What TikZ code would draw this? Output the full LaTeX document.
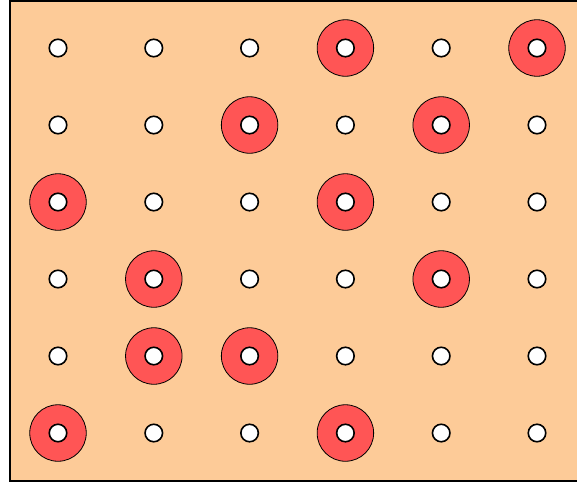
\documentclass[tikz,border=0pt]{standalone}
\definecolor{board}{HTML}{FDCB98}
\definecolor{ringred}{HTML}{FF5555}
\tikzset{
  hole/.style={circle,draw,fill=white,line width=1.6pt,inner sep=0pt,minimum size=17.5pt},
  ring/.style={circle,draw,fill=ringred,line width=.8pt,inner sep=0pt,minimum size=56.5pt}
}
\begin{document}
\begin{tikzpicture}[x=1pt,y=-1pt]
\useasboundingbox (0,0) rectangle (577,483);
\draw[fill=board,line width=1.8pt] (10,1) rectangle (600,481);
% red rings under the holes
\foreach \r/\c in {1/4,1/6,2/3,2/5,3/1,3/4,4/2,4/5,5/2,5/3,6/1,6/4}{
  \node[ring] (ring-\r-\c) at ({58+(\c-1)*95.8},{48+(\r-1)*77}) {};
}
% 6x6 grid of holes
\foreach \r in {1,...,6}{
  \foreach \c in {1,...,6}{
    \node[hole] (hole-\r-\c) at ({58+(\c-1)*95.8},{48+(\r-1)*77}) {};
  }
}
\end{tikzpicture}
\end{document}
